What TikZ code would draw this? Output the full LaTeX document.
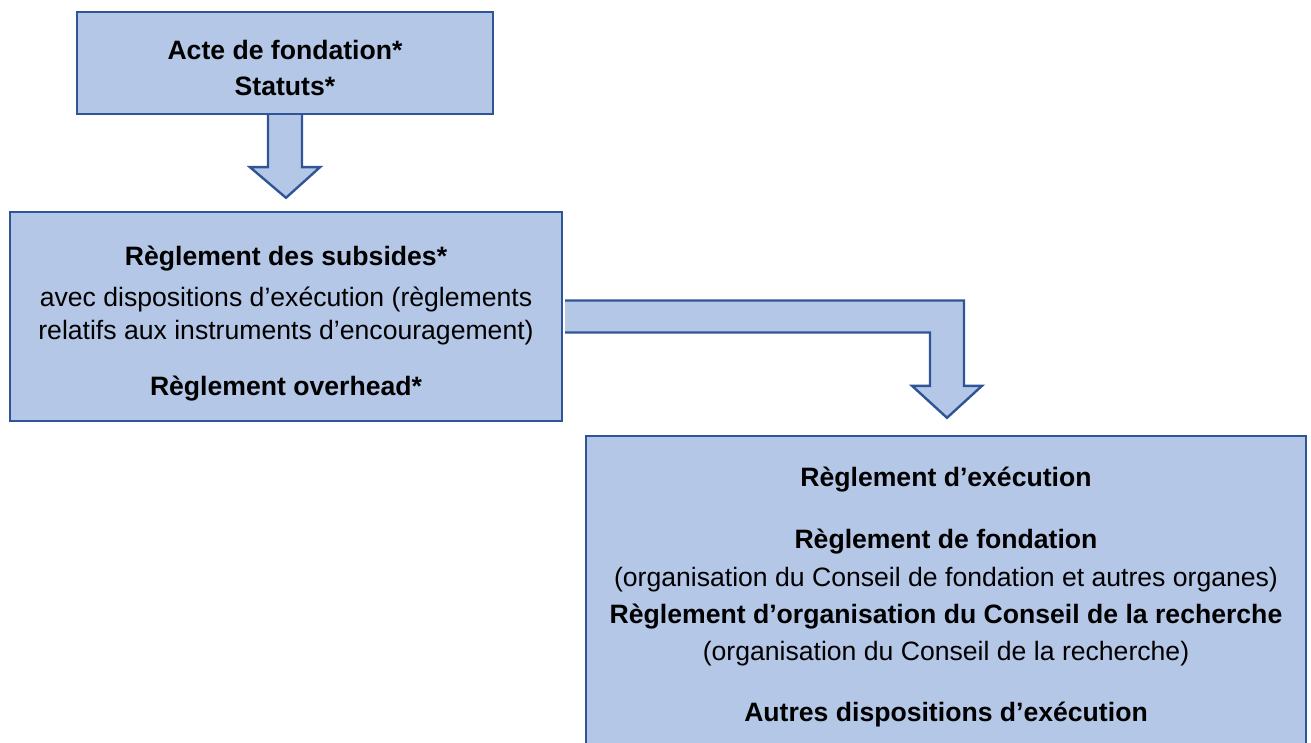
\documentclass[tikz,border=0pt]{standalone}
\usepackage{fontspec}
\setmainfont{Liberation Sans}
\usetikzlibrary{calc}

\definecolor{boxfill}{HTML}{B4C7E7}
\definecolor{boxline}{HTML}{2F5597}

\begin{document}
\begin{tikzpicture}[x=0.5pt, y=-0.5pt,
	box/.style={draw=boxline, fill=boxfill, line width=1.2pt, inner sep=0pt},
	boxtext/.style={align=center, inner sep=0pt, font=\fontsize{13.3pt}{16.5pt}\selectfont},
	blockarrow/.style={draw=boxline, fill=boxfill, line width=1.2pt, line join=miter}]

	\clip (0,0) rectangle (1311,743);

	%the three levels of rules
	\node[box, minimum width=208pt, minimum height=51pt] (acte) at (285,63) {};
	\node[box, minimum width=276pt, minimum height=104.5pt] (subsides) at (286,316.5) {};
	\node[box, minimum width=360pt, minimum height=159pt] (execution) at (946,595) {};

	%texts of the boxes
	\node[boxtext] (acteText) at ($(acte)+(0,5)$)
		{\textbf{Acte de fondation*}\\[1.5pt]\textbf{Statuts*}};
	\node[boxtext] (subsidesText) at ($(subsides)+(0,7)$)
		{\textbf{Règlement des subsides*}\\[4pt]
		avec dispositions d’exécution (règlements\\
		relatifs aux instruments d’encouragement)\\[11.5pt]
		\textbf{Règlement overhead*}};
	\node[boxtext] (executionText) at ($(execution)+(0,2)$)
		{\textbf{Règlement d’exécution}\\[14.5pt]
		\textbf{Règlement de fondation}\\[2.5pt]
		(organisation du Conseil de fondation et autres organes)\\[2pt]
		\textbf{Règlement d’organisation du Conseil de la recherche}\\[2pt]
		(organisation du Conseil de la recherche)\\[14pt]
		\textbf{Autres dispositions d’exécution}};

	%straight arrow
	\path[blockarrow] ($(acte.south)+(-17,0)$) -- ($(acte.south)+(-17,52)$)
		-- ($(acte.south)+(-35,52)$) -- ($(subsides.north)+(0,-13)$)
		-- ($(acte.south)+(35,52)$) -- ($(acte.south)+(17,52)$)
		-- ($(acte.south)+(17,0)$);

	%elbow arrow
	\path[blockarrow] ($(subsides.east)+(2,16)$)
		-- ($(subsides.east -| execution.north)+(-16,16)$)
		-- ($(execution.north)+(-16,-49)$) -- ($(execution.north)+(-34,-49)$)
		-- ($(execution.north)+(1,-17)$)
		-- ($(execution.north)+(36,-49)$) -- ($(execution.north)+(18,-49)$)
		-- ($(subsides.east -| execution.north)+(18,-16)$)
		-- ($(subsides.east)+(2,-16)$);

\end{tikzpicture}
\end{document}
